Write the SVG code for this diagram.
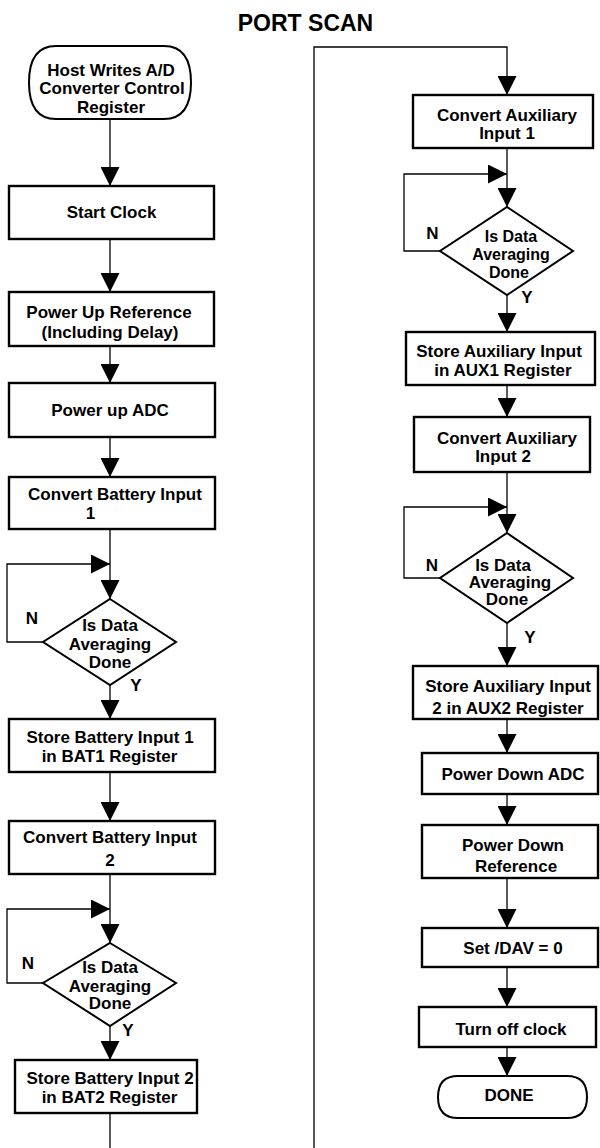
<svg xmlns="http://www.w3.org/2000/svg" width="600" height="1148" viewBox="0 0 600 1148">
<defs>
<marker id="ah" viewBox="0 0 19 19" refX="19" refY="9.5" markerWidth="19" markerHeight="19" markerUnits="userSpaceOnUse" orient="auto">
<path d="M0,0 L19,9.5 L0,19 Z" fill="#000"/>
</marker>
<style>
.box{fill:#fff;stroke:#000;stroke-width:2.4}
.dia{fill:#fff;stroke:#000;stroke-width:2}
.ln{fill:none;stroke:#000;stroke-width:1.3}
.ar{fill:none;stroke:#000;stroke-width:1.3;marker-end:url(#ah)}
text{font-family:"Liberation Sans",Arial,sans-serif;font-weight:bold;font-size:17px;fill:#000;text-anchor:middle}
.title{font-size:23px}
.sm{font-size:16px}
</style>
</defs>
<rect width="600" height="1148" fill="#fff"/>
<text class="title" x="305.5" y="31">PORT SCAN</text>

<g id="connectors">
<line class="ar" x1="110" y1="119" x2="110" y2="186"/>
<line class="ar" x1="110" y1="239" x2="110" y2="292"/>
<line class="ar" x1="110" y1="346" x2="110" y2="383"/>
<line class="ar" x1="110" y1="437" x2="110" y2="477"/>
<line class="ar" x1="110" y1="529" x2="110" y2="599"/>
<polyline class="ar" points="43,642 7,642 7,564 110,564"/>
<line class="ar" x1="110" y1="685" x2="110" y2="719"/>
<line class="ar" x1="110" y1="772" x2="110" y2="821"/>
<line class="ar" x1="110" y1="874" x2="110" y2="943"/>
<polyline class="ar" points="43,983 7,983 7,909 110,909"/>
<line class="ar" x1="110" y1="1026" x2="110" y2="1060"/>
<line class="ln" x1="110" y1="1113" x2="110" y2="1148"/>
<polyline class="ar" points="314,1148 314,47 507,47 507,95"/>
<line class="ar" x1="507" y1="148" x2="507" y2="207"/>
<polyline class="ar" points="440,251 404,251 404,174 507,174"/>
<line class="ar" x1="507" y1="295" x2="507" y2="332"/>
<line class="ar" x1="507" y1="385" x2="507" y2="417"/>
<line class="ar" x1="507" y1="472" x2="507" y2="533"/>
<polyline class="ar" points="440,578 404,578 404,507 507,507"/>
<line class="ar" x1="507" y1="623" x2="507" y2="666"/>
<line class="ar" x1="507" y1="719" x2="507" y2="753"/>
<line class="ar" x1="507" y1="794" x2="507" y2="825"/>
<line class="ar" x1="507" y1="878" x2="507" y2="928"/>
<line class="ar" x1="507" y1="967" x2="507" y2="1007"/>
<line class="ar" x1="507" y1="1047" x2="507" y2="1076"/>
</g>

<g id="n-start">
<path class="dia" d="M56,46 H164 Q191,46 191,82.5 Q191,119 164,119 H56 Q29,119 29,82.5 Q29,46 56,46 Z"/>
<text x="111" y="76">Host Writes A/D</text>
<text x="112" y="94">Converter Control</text>
<text x="111" y="113">Register</text>
</g>
<g id="n-startclock">
<rect class="box" x="9" y="186" width="205" height="53"/>
<text x="111.5" y="218">Start Clock</text>
</g>
<g id="n-pwrref">
<rect class="box" x="9" y="292" width="205" height="54"/>
<text x="109" y="318">Power Up Reference</text>
<text x="110" y="338">(Including Delay)</text>
</g>
<g id="n-pwradc">
<rect class="box" x="9" y="383" width="206" height="54"/>
<text x="110" y="416">Power up ADC</text>
</g>
<g id="n-convbat1">
<rect class="box" x="9" y="477" width="206" height="52"/>
<text x="115" y="500">Convert Battery Input</text>
<text x="90.5" y="519">1</text>
</g>
<g id="n-dec1">
<polygon class="dia" points="110,599 176,642 110,685 43,642"/>
<text x="110" y="631">Is Data</text>
<text x="110" y="650">Averaging</text>
<text x="110" y="668">Done</text>
<text x="32" y="624">N</text>
<text x="136" y="691">Y</text>
</g>
<g id="n-storebat1">
<rect class="box" x="9" y="719" width="206" height="53"/>
<text x="110" y="743">Store Battery Input 1</text>
<text x="109.5" y="762">in BAT1 Register</text>
</g>
<g id="n-convbat2">
<rect class="box" x="9" y="821" width="206" height="53"/>
<text x="110" y="843">Convert Battery Input</text>
<text x="110" y="866">2</text>
</g>
<g id="n-dec2">
<polygon class="dia" points="110,943 176,983 110,1026 43,983"/>
<text x="110" y="973">Is Data</text>
<text x="110" y="992">Averaging</text>
<text x="110" y="1009">Done</text>
<text x="28" y="969">N</text>
<text x="128" y="1036">Y</text>
</g>
<g id="n-storebat2">
<rect class="box" x="15" y="1060" width="182" height="53"/>
<text x="110" y="1084">Store Battery Input 2</text>
<text x="109.5" y="1103">in BAT2 Register</text>
</g>

<g id="n-convaux1">
<rect class="box" x="413" y="95" width="180" height="53"/>
<text x="507" y="121">Convert Auxiliary</text>
<text x="507" y="139">Input 1</text>
</g>
<g id="n-dec3">
<polygon class="dia" points="507,207 573,251 507,295 440,251"/>
<text class="sm" x="511" y="242">Is Data</text>
<text class="sm" x="511" y="260">Averaging</text>
<text class="sm" x="509" y="278">Done</text>
<text x="432.5" y="239">N</text>
<text x="527" y="303">Y</text>
</g>
<g id="n-storeaux1">
<rect class="box" x="406" y="332" width="189" height="53"/>
<text x="499" y="357">Store Auxiliary Input</text>
<text x="503" y="376">in AUX1 Register</text>
</g>
<g id="n-convaux2">
<rect class="box" x="414" y="417" width="176" height="55"/>
<text x="507" y="444">Convert Auxiliary</text>
<text x="503" y="462">Input 2</text>
</g>
<g id="n-dec4">
<polygon class="dia" points="507,533 573,578 507,623 440,578"/>
<text x="503" y="571">Is Data</text>
<text x="510" y="588">Averaging</text>
<text x="507" y="605">Done</text>
<text x="432" y="571">N</text>
<text x="530" y="643">Y</text>
</g>
<g id="n-storeaux2">
<rect class="box" x="413" y="666" width="185" height="53"/>
<text x="508" y="692">Store Auxiliary Input</text>
<text x="508" y="714">2 in AUX2 Register</text>
</g>
<g id="n-pwrdnadc">
<rect class="box" x="422" y="753" width="176" height="41"/>
<text x="513" y="780">Power Down ADC</text>
</g>
<g id="n-pwrdnref">
<rect class="box" x="422" y="825" width="176" height="53"/>
<text x="513" y="851">Power Down</text>
<text x="516" y="872">Reference</text>
</g>
<g id="n-setdav">
<rect class="box" x="422" y="928" width="176" height="39"/>
<text x="513" y="954">Set /DAV = 0</text>
</g>
<g id="n-clkoff">
<rect class="box" x="419" y="1007" width="177" height="40"/>
<text x="511" y="1035">Turn off clock</text>
</g>
<g id="n-done">
<path class="dia" d="M458,1076 H567 Q587,1076 587,1097 Q587,1118 567,1118 H458 Q438,1118 438,1097 Q438,1076 458,1076 Z"/>
<text x="509" y="1101">DONE</text>
</g>
</svg>
